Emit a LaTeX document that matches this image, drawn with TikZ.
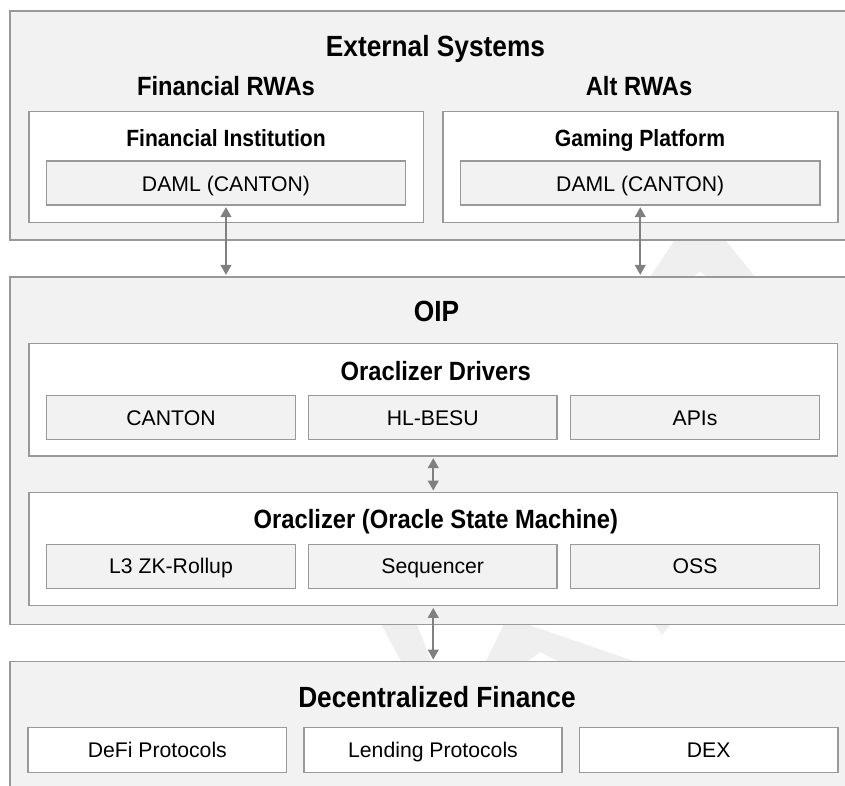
\documentclass[tikz,border=0pt]{standalone}
\usepackage{fontspec}
\setmainfont{Liberation Sans}
\newfontfamily\narrowfont{Liberation Sans}[FakeStretch=0.9]
\usetikzlibrary{arrows.meta,fit}
\definecolor{panel}{HTML}{F2F2F2}
\definecolor{edge}{HTML}{999999}
\definecolor{arrowgray}{HTML}{808080}
\definecolor{wmark}{HTML}{EFEFEF}
\tikzset{
  frame/.style={draw=edge, line width=1.1pt, inner sep=0pt, outer sep=0pt},
  panelbox/.style={frame, fill=panel},
  whitebox/.style={frame, fill=white},
  cellbox/.style={frame, fill=panel},
  defibox/.style={frame, fill=white},
  celltext/.style={inner sep=0pt, font=\fontsize{15.9pt}{18pt}\selectfont, text height=11.4pt, text depth=0pt},
  title/.style={anchor=base, inner sep=0pt, font=\narrowfont\bfseries\fontsize{21.9pt}{24pt}\selectfont},
  subtitle/.style={anchor=base, inner sep=0pt, font=\narrowfont\bfseries\fontsize{19.8pt}{22pt}\selectfont},
  boxtitle/.style={anchor=base, inner sep=0pt, font=\narrowfont\bfseries\fontsize{17.6pt}{20pt}\selectfont},
  link/.style={draw=arrowgray, line width=1.5pt,
    {Triangle[length=7.5pt,width=8pt]}-{Triangle[length=7.5pt,width=8pt]},
    shorten <=1.6pt, shorten >=1.6pt},
}
\begin{document}
\begin{tikzpicture}[x=0.75pt, y=-0.75pt]
\useasboundingbox (0,0) rectangle (845,785);
\clip (0,0) rectangle (845,785);
\fill[white] (0,0) rectangle (845,785);

% faint watermark pieces
\fill[wmark] (650,277) -- (676,238) -- (724,238) -- (755,277) -- (707,277) -- (700,271.5) -- (693,277) -- cycle;
\fill[wmark] (380,622) -- (416,622) -- (432,663) -- (402,663) -- cycle;
\fill[wmark] (505,622) -- (520,622) -- (640,663) -- (562,663) -- (540,652) -- (525,663) -- (485,663) -- cycle;
\fill[wmark] (653,622) -- (672,622) -- (662,635) -- cycle;

% External Systems
\node[panelbox, fit={(10,11) (870,240)}] (ext) {};
\node[whitebox, fit={(29,111.5) (423.5,222.5)}] (finInst) {};
\node[cellbox, fit={(46.5,161) (405.5,205)}] (damlL) {};
\node[celltext] (damlLT) at ([yshift=-0.75pt]damlL.center) {DAML (CANTON)};
\node[whitebox, fit={(443,111.5) (838,222.5)}] (gaming) {};
\node[cellbox, fit={(460.5,161) (820,205)}] (damlR) {};
\node[celltext] (damlRT) at ([yshift=-0.75pt]damlR.center) {DAML (CANTON)};
\node[title] (tExt) at (435.5,56) {External Systems};
\node[subtitle] (tFin) at (226,95.5) {Financial RWAs};
\node[subtitle] (tAlt) at (639,95.5) {Alt RWAs};
\node[boxtitle] (tInst) at (226,146.5) {Financial Institution};
\node[boxtitle] (tGame) at (640,146.5) {Gaming Platform};

% OIP
\node[panelbox, fit={(10,277) (870,624.5)}] (oip) {};
\node[title] (tOIP) at (436.5,321) {OIP};
\node[whitebox, fit={(29,343.5) (837.5,456)}] (drivers) {};
\node[subtitle] (tDrv) at (435.7,380.5) {Oraclizer Drivers};
\node[cellbox, fit={(46.5,395.7) (295.5,439.5)}] (canton) {};
\node[cellbox, fit={(308.5,395.7) (557,439.5)}] (hlbesu) {};
\node[cellbox, fit={(570.5,395.7) (819.5,439.5)}] (apis) {};
\node[celltext] (cantonT) at (canton.center) {CANTON};
\node[celltext] (hlbesuT) at (hlbesu.center) {HL-BESU};
\node[celltext] (apisT) at (apis.center) {APIs};
\node[whitebox, fit={(29,492.7) (837.5,605.7)}] (oracl) {};
\node[subtitle] (tOSM) at (435.9,528.5) {Oraclizer (Oracle State Machine)};
\node[cellbox, fit={(46.5,544.3) (295.5,588.3)}] (l3) {};
\node[cellbox, fit={(308.5,544.3) (557,588.3)}] (seq) {};
\node[cellbox, fit={(570.5,544.3) (819.5,588.3)}] (oss) {};
\node[celltext] (l3T) at (l3.center) {L3 ZK-Rollup};
\node[celltext] (seqT) at (seq.center) {Sequencer};
\node[celltext] (ossT) at (oss.center) {OSS};

% Decentralized Finance
\node[panelbox, fit={(10,661.7) (870,800)}] (defi) {};
\node[title] (tDeFi) at (437,707.5) {Decentralized Finance};
\node[defibox, fit={(28,727.3) (286.7,772.7)}] (defiP) {};
\node[defibox, fit={(304,727.3) (562,772.7)}] (lend) {};
\node[defibox, fit={(579.3,727.3) (838,772.7)}] (dex) {};
\node[celltext] (defiPT) at (defiP.center) {DeFi Protocols};
\node[celltext] (lendT) at (lend.center) {Lending Protocols};
\node[celltext] (dexT) at (dex.center) {DEX};

% connectors
\draw[link] (damlL.south) -- (damlL.south |- oip.north);
\draw[link] (damlR.south) -- (damlR.south |- oip.north);
\draw[link] (drivers.south) -- (oracl.north);
\draw[link] (oracl.south) -- (oracl.south |- defi.north);
\end{tikzpicture}
\end{document}
